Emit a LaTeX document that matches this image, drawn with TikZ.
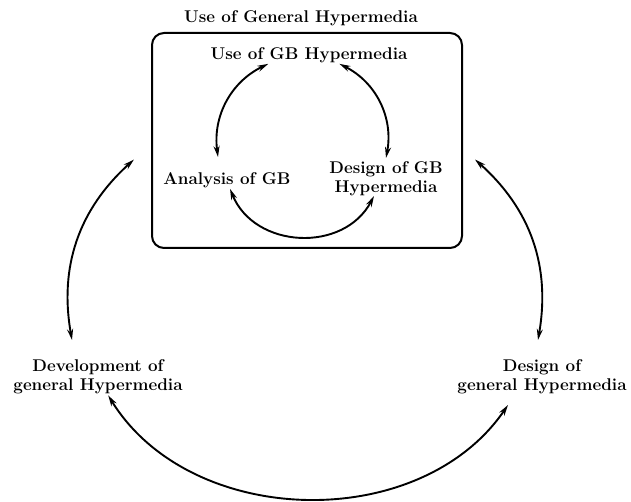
\documentclass[tikz,border=0pt]{standalone}
\usetikzlibrary{arrows.meta}
\usetikzlibrary{positioning}
\tikzset{
  % labels of the cycle
  label text/.style = {
    align = center,
    inner sep = 1pt,
    font = \fontsize{17}{19}\selectfont\bfseries
  },
  % the frame round the inner cycle
  frame box/.style = {
    draw = black,
    line width = 2pt,
    rounded corners = 12pt,
    minimum width = 310pt,
    minimum height = 215pt
  },
  % double headed curved arrows
  cycle arr/.style = {
    draw = black,
    line width = 1.9pt,
    {Stealth[length=11pt,width=6pt]}-{Stealth[length=11pt,width=6pt]}
  }
}

\begin{document}
\begin{tikzpicture}[x=1pt, y=1pt]
    \useasboundingbox (0,0) rectangle (631,502);

    \node[frame box] (frame) at (307,361.5) {};
    \node[label text] (title) at (301,484) {Use of General Hypermedia};

    \node[label text] (useGB) at (309,447) {Use of GB Hypermedia};
    \node[label text] (analysis) at (227,322) {Analysis of GB};
    \node[label text] (designGB) at (386,323) {Design of GB\\Hypermedia};

    \node[label text] (devel) at (98,125) {Development of\\general Hypermedia};
    \node[label text] (designGen) at (542,125) {Design of\\general Hypermedia};

    % inner cycle
    \draw[cycle arr] ([shift={(-30pt,-13pt)}]useGB) to[bend right=36] ([shift={(-9pt,23pt)}]analysis);
    \draw[cycle arr] ([shift={(22pt,-13pt)}]useGB) to[bend left=37] ([shift={(0pt,21pt)}]designGB);
    \draw[cycle arr] ([shift={(2pt,-12pt)}]analysis) to[bend right=65, looseness=1.15] ([shift={(-12pt,-17pt)}]designGB);

    % outer cycle
    \draw[cycle arr] ([shift={(-17pt,-19pt)}]frame.west) to[bend right=29] ([shift={(-26pt,37pt)}]devel);
    \draw[cycle arr] ([shift={(12pt,-19pt)}]frame.east) to[bend left=29] ([shift={(-4pt,37pt)}]designGen);
    \draw[cycle arr] ([shift={(7pt,-28pt)}]devel) to[bend right=57] ([shift={(-34pt,-28pt)}]designGen);
\end{tikzpicture}
\end{document}
